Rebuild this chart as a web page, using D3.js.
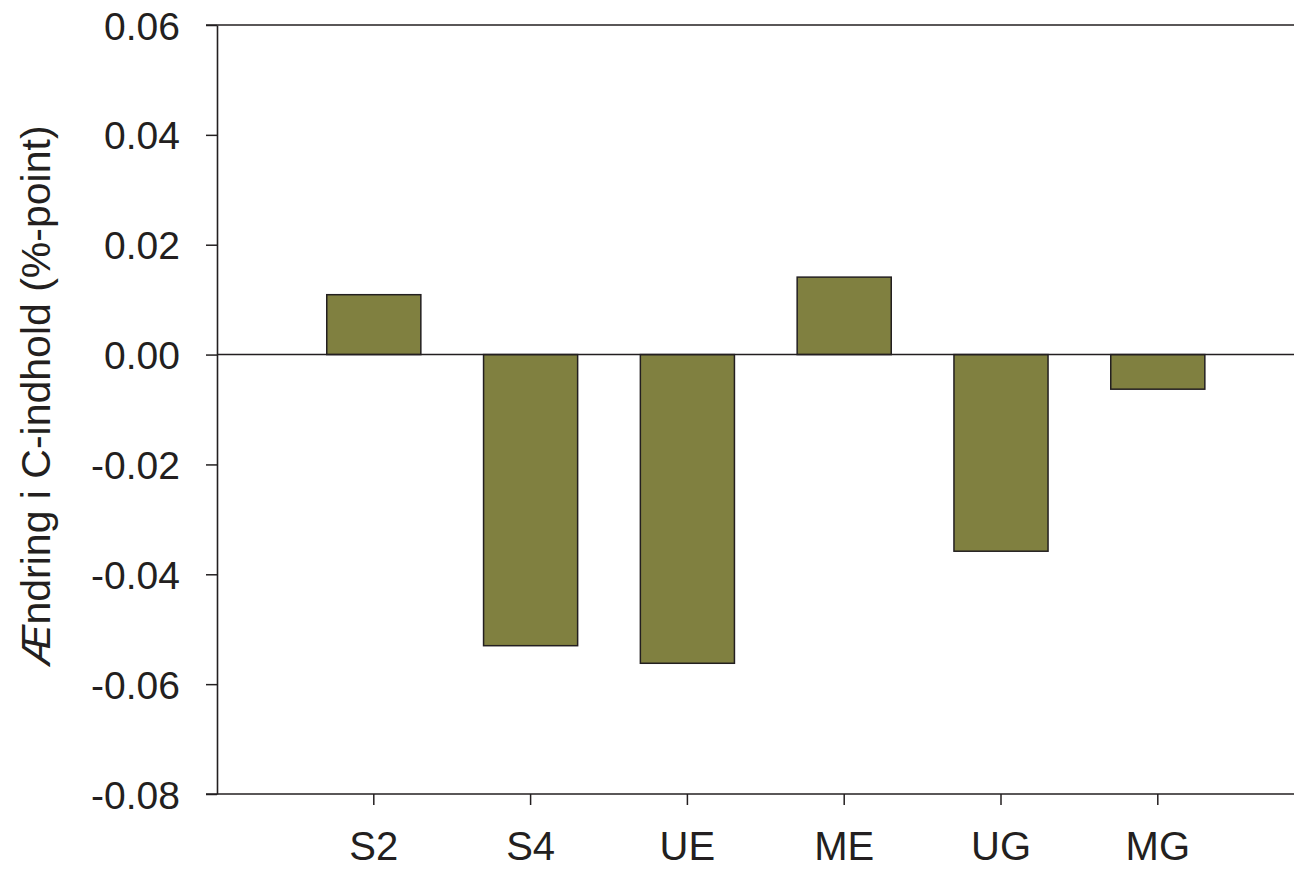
<!DOCTYPE html>
<html>
<head>
<meta charset="utf-8">
<script src="https://cdn.jsdelivr.net/npm/d3@7"></script>
<style>
    body { margin: 0; background: #fff; }
    text { font-family: "Liberation Sans", Arial, sans-serif; fill: #231f20; }
</style>
</head>
<body>
<div id="chart"></div>
<script>
const categories = ["S2", "S4", "UE", "ME", "UG", "MG"];
const values = [0.0109, -0.0530, -0.0562, 0.0141, -0.0358, -0.0063];
const yTicks = [0.06, 0.04, 0.02, 0.00, -0.02, -0.04, -0.06, -0.08];
const yLabel = "ndring i C-indhold (%-point)";

const width = 1294, height = 869;
const plotLeft = 217, plotTop = 25, plotBottom = 794, plotRight = 1294;
const step = 156.8;
const lineColor = "#231f20";

const svg = d3.select("#chart")
    .append("svg")
    .attr("width", width)
    .attr("height", height);

const y = d3.scaleLinear()
    .domain([-0.08, 0.06])
    .range([plotBottom, plotTop]);

// one empty slot before S2, ticks at band centres
const x = d3.scaleBand()
    .domain(categories)
    .range([plotLeft + step / 2, plotLeft + step / 2 + categories.length * step]);

const fmt = d => d3.format(".2f")(d).replace("\u2212", "-");

// bars
svg.selectAll("rect.bar")
    .data(categories)
    .enter().append("rect")
    .attr("class", "bar")
    .attr("x", d => x(d) + x.bandwidth() * 0.2)
    .attr("width", x.bandwidth() * 0.6)
    .attr("y", (d, i) => y(Math.max(0, values[i])))
    .attr("height", (d, i) => Math.abs(y(values[i]) - y(0)))
    .attr("fill", "#808040")
    .attr("stroke", lineColor)
    .attr("stroke-width", 1.5);

// zero line
svg.append("line")
    .attr("x1", plotLeft).attr("x2", plotRight)
    .attr("y1", y(0)).attr("y2", y(0))
    .attr("stroke", lineColor)
    .attr("stroke-width", 1.5);

// y axis
const yAxis = svg.append("g")
    .attr("transform", `translate(${plotLeft},0)`)
    .call(d3.axisLeft(y).tickValues(yTicks).tickFormat(fmt).tickSize(11).tickSizeOuter(0).tickPadding(26));
yAxis.select(".domain").attr("stroke", lineColor).attr("stroke-width", 1.6);
yAxis.selectAll(".tick line").attr("stroke", lineColor).attr("stroke-width", 1.5);
yAxis.selectAll(".tick text")
    .attr("font-size", 39)
    .attr("font-family", "Liberation Sans, Arial, sans-serif")
    .attr("fill", lineColor)
    .attr("dy", "0.36em");

// x axis
const xAxis = svg.append("g")
    .attr("transform", `translate(0,${plotBottom})`)
    .call(d3.axisBottom(x).tickSize(11).tickSizeOuter(0).tickPadding(27));
xAxis.select(".domain").remove();
xAxis.selectAll(".tick line").attr("stroke", lineColor).attr("stroke-width", 1.5);
xAxis.selectAll(".tick text")
    .attr("font-size", 40)
    .attr("font-family", "Liberation Sans, Arial, sans-serif")
    .attr("fill", lineColor)
    .attr("dy", "0.71em");

// frame lines (bottom and top)
svg.append("line")
    .attr("x1", plotLeft - 11).attr("x2", plotRight)
    .attr("y1", plotBottom).attr("y2", plotBottom)
    .attr("stroke", lineColor).attr("stroke-width", 1.6);
svg.append("line")
    .attr("x1", plotLeft - 11).attr("x2", plotRight)
    .attr("y1", plotTop).attr("y2", plotTop)
    .attr("stroke", lineColor).attr("stroke-width", 1.6);

// y label, the Æ is set in italic in the original
const label = svg.append("text")
    .attr("transform", `translate(50,${(plotTop + plotBottom) / 2 - 14}) rotate(-90)`)
    .attr("text-anchor", "middle")
    .attr("font-size", 41);
label.append("tspan").attr("font-style", "italic").text("Æ");
label.append("tspan").text(yLabel);
</script>
</body>
</html>
